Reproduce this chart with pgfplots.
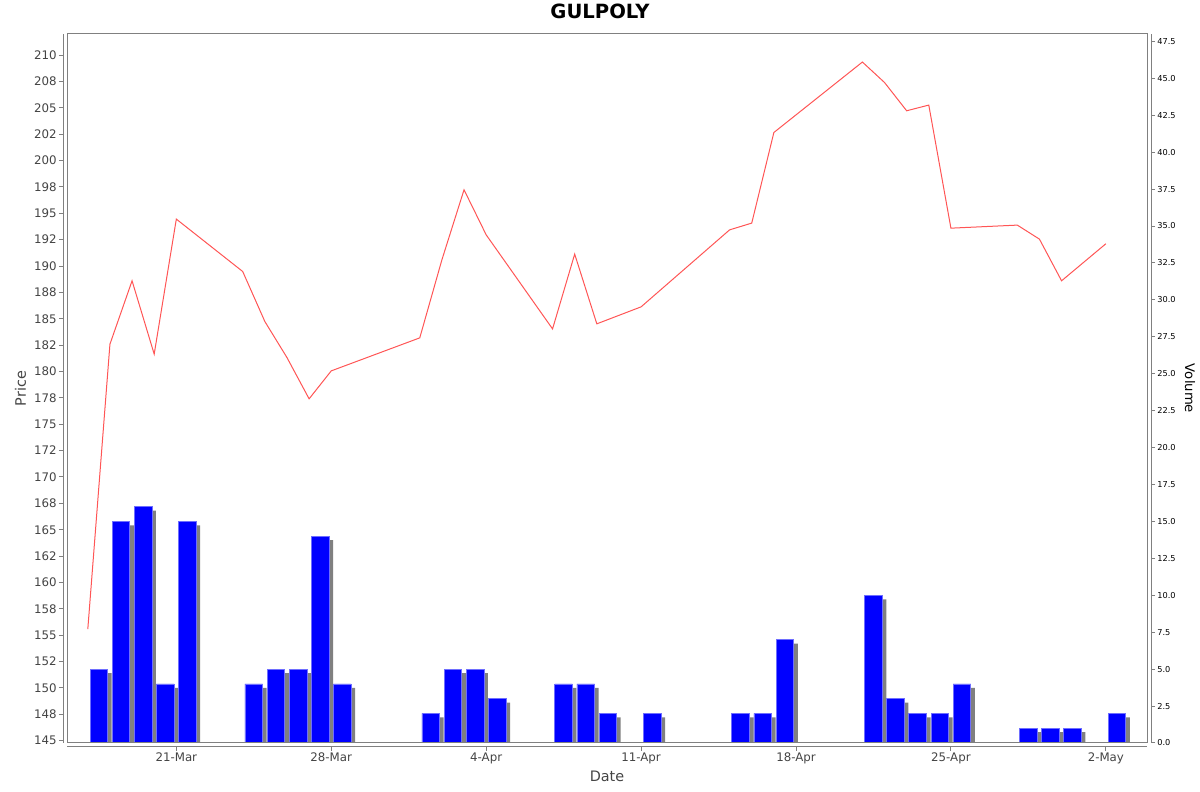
\documentclass[border=0pt]{standalone}
\usepackage{pgfplots}
\usepackage{pgfplotstable}
\pgfplotsset{compat=1.18}
\usepackage{fontspec}
\setmainfont{DejaVu Sans}
\definecolor{linered}{RGB}{255,85,85}
\definecolor{barblue}{RGB}{0,0,255}
\definecolor{barhi}{RGB}{110,110,255}
\definecolor{shadowgray}{RGB}{128,128,128}
\definecolor{axisgray}{RGB}{128,128,128}
\definecolor{labelgray}{RGB}{68,68,68}

% volume bars: x = day offset from 21-Mar + 0.5 (bar centred in the day)
\pgfplotstableread{
x v
-3.5 5
-2.5 15
-1.5 16
-0.5 4
0.5 15
3.5 4
4.5 5
5.5 5
6.5 14
7.5 4
11.5 2
12.5 5
13.5 5
14.5 3
17.5 4
18.5 4
19.5 2
21.5 2
25.5 2
26.5 2
27.5 7
31.5 10
32.5 3
33.5 2
34.5 2
35.5 4
38.5 1
39.5 1
40.5 1
42.5 2
}\voltable

% price: x = day offset from 21-Mar
\pgfplotstableread{
x p
-4 155.57
-3 182.59
-2 188.60
-1 181.65
0 194.45
3 189.48
4 184.74
5 181.32
6 177.41
7 180.06
11 183.19
12 190.59
13 197.23
14 192.96
17 184.04
18 191.13
19 184.52
21 186.13
25 193.43
26 194.07
27 202.66
31 209.34
32 207.40
33 204.72
34 205.26
35 193.59
38 193.88
39 192.55
40 188.60
42 192.11
}\pricetable

\begin{document}
\begin{tikzpicture}
\useasboundingbox (0,0) rectangle (600pt,396pt);
% ---------- volume axis (right) ----------
\begin{axis}[
  at={(33.5pt,24.5pt)}, anchor=south west,
  scale only axis, width=540pt, height=354.5pt,
  xmin=-4.94, xmax=43.86, ymin=0, ymax=48,
  axis x line=none, axis y line*=right,
  axis y line shift=2pt,
  axis line style={axisgray, line width=0.5pt},
  tick style={axisgray, line width=0.5pt},
  major tick length=2pt, tick align=outside,
  ytick={0,2.5,...,47.5},
  yticklabels={0.0,2.5,5.0,7.5,10.0,12.5,15.0,17.5,20.0,22.5,25.0,27.5,30.0,32.5,35.0,37.5,40.0,42.5,45.0,47.5},
  yticklabel style={font=\fontsize{4.1}{5}\selectfont, text=black, inner sep=1pt},
  ylabel={Volume},
  every axis y label/.style={at={(rel axis cs:1,0.5)}, xshift=21.5pt, rotate=-90, anchor=center,
     font=\fontsize{6.6}{7.5}\selectfont, text=black},
  clip=true,
]
\addplot[ybar, bar width=0.8, bar shift=2pt, fill=shadowgray, draw=none]
  table[x=x, y expr=\thisrow{v}-0.27] {\voltable};
\addplot[ybar, bar width=0.8, bar shift=0pt, fill=barblue, draw=barhi, line width=0.4pt]
  table[x=x, y=v] {\voltable};
\end{axis}
% ---------- price axis (left) ----------
\begin{axis}[
  at={(33.5pt,24.5pt)}, anchor=south west,
  scale only axis, width=540pt, height=354.5pt,
  xmin=-4.94, xmax=43.86, ymin=144.78, ymax=212.0,
  axis x line*=bottom, axis y line*=left,
  axis x line shift=2pt, axis y line shift=2pt,
  axis line style={axisgray, line width=0.5pt, -},
  tick style={axisgray, line width=0.5pt},
  major tick length=2pt, tick align=outside,
  xtick={0,7,14,21,28,35,42},
  xticklabels={21-Mar,28-Mar,4-Apr,11-Apr,18-Apr,25-Apr,2-May},
  ytick={145,147.5,...,210},
  yticklabels={145,148,150,152,155,158,160,162,165,168,170,172,175,178,180,182,185,188,190,192,195,198,200,202,205,208,210},
  ticklabel style={font=\fontsize{5.9}{7}\selectfont, text=labelgray},
  yticklabel style={inner sep=1pt},
  xticklabel style={inner sep=0.6pt},
  xlabel={Date}, ylabel={Price},
  every axis x label/.style={at={(rel axis cs:0.5,0)}, yshift=-16.5pt, anchor=center,
     font=\fontsize{7.2}{8}\selectfont, text=labelgray},
  every axis y label/.style={at={(rel axis cs:0,0.5)}, xshift=-23.2pt, rotate=90, anchor=center,
     font=\fontsize{7.2}{8}\selectfont, text=labelgray},
  after end axis/.code={
    \draw[axisgray, line width=0.5pt] (rel axis cs:0,0) rectangle (rel axis cs:1,1);
  },
]
\addplot[linered, line width=0.5pt, mark=none] table[x=x, y=p] {\pricetable};
\end{axis}
\node[font=\bfseries\fontsize{9.8}{11}\selectfont, text=black, anchor=center] at (300pt,390.2pt) {GULPOLY};
\end{tikzpicture}
\end{document}
